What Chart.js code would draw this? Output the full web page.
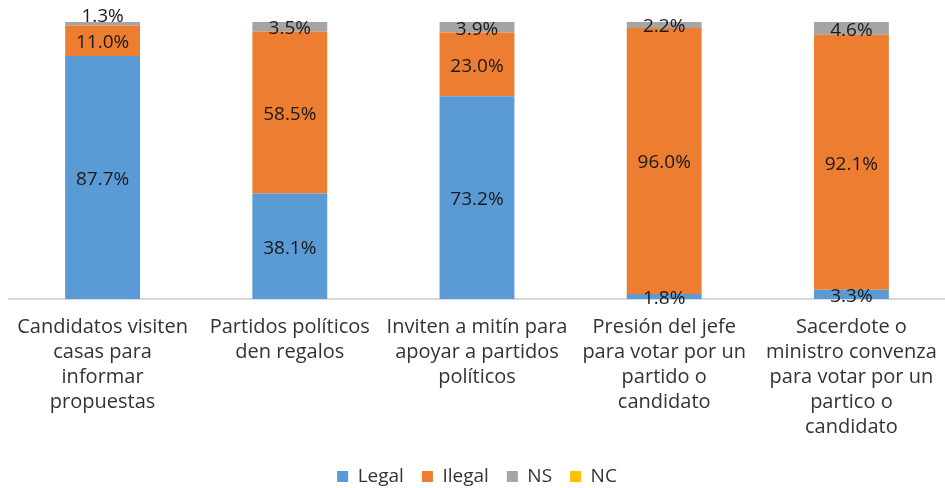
<!DOCTYPE html>
<html>
<head>
<meta charset="utf-8">
<script src="https://cdn.jsdelivr.net/npm/chart.js@4.4.0/dist/chart.umd.min.js"></script>
<style>
  html, body { margin: 0; padding: 0; background: #fff; }
  #wrap { width: 945px; height: 488px; }
</style>
</head>
<body>
<div id="wrap"><canvas id="c" width="945" height="488"></canvas></div>
<script>
const categories = [
  ["Candidatos visiten", "casas para", "informar", "propuestas"],
  ["Partidos políticos", "den regalos"],
  ["Inviten a mitín para", "apoyar a partidos", "políticos"],
  ["Presión del jefe", "para votar por un", "partido o", "candidato"],
  ["Sacerdote o", "ministro convenza", "para votar por un", "partico o", "candidato"]
];
const legalValues  = [87.7, 38.1, 73.2, 1.8, 3.3];
const ilegalValues = [11.0, 58.5, 23.0, 96.0, 92.1];
const nsValues     = [1.3, 3.5, 3.9, 2.2, 4.6];
const ncValues     = [0, 0, 0, 0, 0];

const FONT = "'Open Sans', sans-serif";

const labelPlugin = {
  id: 'segLabels',
  afterLayout(chart) {
    const lg = chart.legend;
    if (lg) { lg.top += 8; lg.bottom += 8; }
  },
  afterDatasetsDraw(chart) {
    const ctx = chart.ctx;
    ctx.save();
    ctx.font = "19px " + FONT;
    ctx.fillStyle = "#1a1a1a";
    ctx.textAlign = "center";
    ctx.textBaseline = "middle";
    const prevY = {};
    chart.data.datasets.forEach((ds, di) => {
      const meta = chart.getDatasetMeta(di);
      meta.data.forEach((el, i) => {
        const v = ds.data[i];
        if (!v) return;
        let y = (el.y + el.base) / 2 + 2;
        if (prevY[i] !== undefined && prevY[i] - y < 26) y = Math.min(y, prevY[i] - 26);
        prevY[i] = y;
        ctx.fillText(v.toFixed(1) + "%", el.x, y);
      });
    });
    ctx.restore();
  }
};

new Chart(document.getElementById('c'), {
  type: 'bar',
  data: {
    labels: categories,
    datasets: [
      { label: 'Legal',  data: legalValues,  backgroundColor: '#5B9BD5' },
      { label: 'Ilegal', data: ilegalValues, backgroundColor: '#ED7D31' },
      { label: 'NS',     data: nsValues,     backgroundColor: '#A5A5A5' },
      { label: 'NC',     data: ncValues,     backgroundColor: '#FFC000' }
    ]
  },
  options: {
    responsive: false,
    animation: false,
    layout: { padding: { left: 9, right: 0, top: 22, bottom: 0 } },
    datasets: { bar: { categoryPercentage: 1, barPercentage: 0.4, borderWidth: 0 } },
    scales: {
      x: {
        stacked: true,
        grid: { display: false, drawTicks: false },
        border: { display: true, color: '#d9d9d9', width: 2 },
        ticks: { font: { family: FONT, size: 20, lineHeight: '25px' }, color: '#333333', padding: 16, maxRotation: 0, autoSkip: false },
        afterFit(scale) {
          const lh = scale.chart.legend ? scale.chart.legend.height : 0;
          scale.height = 488 - 299 - lh;
          scale.paddingLeft = 0;
          scale.paddingRight = 0;
        }
      },
      y: { stacked: true, display: false, min: 0, max: 100 }
    },
    plugins: {
      legend: {
        position: 'bottom',
        labels: { font: { family: FONT, size: 19 }, color: '#333333', boxWidth: 11, boxHeight: 11, padding: 18, useBorderRadius: false }
      },
      tooltip: { enabled: false }
    }
  },
  plugins: [labelPlugin]
});
</script>
</body>
</html>
